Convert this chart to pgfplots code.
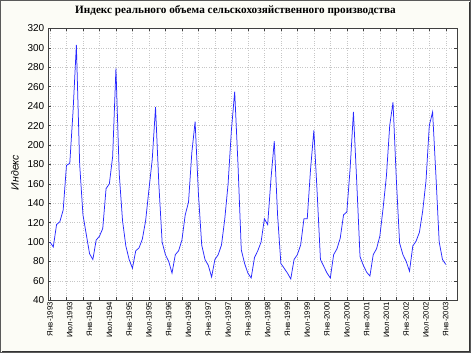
\documentclass[border=0pt]{standalone}
\usepackage{fontspec}
\setmainfont{Liberation Sans}
\newfontfamily\titlefont{Liberation Serif}
\usepackage{pgfplots}
\pgfplotsset{compat=1.18}
\usepackage{pgfplotstable}
\definecolor{bgcream}{RGB}{252,252,246}
\definecolor{lineblue}{RGB}{40,40,255}
\definecolor{framegray}{RGB}{90,90,90}

\pgfplotstableread{
i v
0 100
1 95
2 118
3 121
4 133
5 179
6 181
7 235
8 303
9 180
10 128
11 108
12 88
13 82
14 102
15 106
16 114
17 155
18 160
19 188
20 279
21 170
22 122
23 96
24 82
25 73
26 91
27 94
28 103
29 122
30 154
31 185
32 239
33 160
34 100
35 87
36 80
37 68
38 87
39 91
40 102
41 128
42 141
43 192
44 224
45 150
46 97
47 82
48 76
49 64
50 82
51 87
52 97
53 124
54 160
55 215
56 255
57 180
58 92
59 78
60 68
61 63
62 84
63 91
64 100
65 124
66 118
67 165
68 204
69 128
70 78
71 73
72 68
73 62
74 82
75 87
76 97
77 124
78 124
79 175
80 215
81 151
82 82
83 75
84 68
85 63
86 87
87 93
88 104
89 128
90 131
91 176
92 234
93 162
94 85
95 76
96 69
97 65
98 87
99 93
100 106
101 135
102 168
103 220
104 244
105 165
106 99
107 87
108 80
109 70
110 96
111 101
112 110
113 132
114 163
115 220
116 234
117 169
118 100
119 82
120 77
}\datatable

\begin{document}
\begin{tikzpicture}
\fill[bgcream] (0pt,0pt) rectangle (471pt,353pt);
\useasboundingbox (0pt,0pt) rectangle (471pt,353pt);
\begin{axis}[
  at={(48pt,52.7pt)}, anchor=south west,
  scale only axis, width=409pt, height=271.8pt,
  axis background/.style={fill=white},
  axis line style={draw=black!75, line width=0.6pt},
  xmin=-0.6, xmax=123.4,
  ymin=40, ymax=320,
  ytick={40,60,...,320},
  xtick={0,5,...,120},
  xticklabels={},
  extra x ticks={0,6,...,120},
  extra x tick labels={Янв-1993,Июл-1993,Янв-1994,Июл-1994,Янв-1995,Июл-1995,Янв-1996,Июл-1996,Янв-1997,Июл-1997,Янв-1998,Июл-1998,Янв-1999,Июл-1999,Янв-2000,Июл-2000,Янв-2001,Июл-2001,Янв-2002,Июл-2002,Янв-2003},
  extra x tick style={grid=none, major tick length=0pt,
     xticklabel style={rotate=90, anchor=east, font=\fontsize{7.8}{8}\selectfont, inner sep=1.5pt}},
  tick align=inside,
  major tick length=3pt,
  tick style={black!75, line width=0.5pt},
  grid=major,
  major grid style={dotted, black!22, line width=0.5pt},
  yticklabel style={font=\fontsize{10}{12}\selectfont, inner sep=1.5pt, xshift=-2pt},
  /pgf/number format/assume math mode=true,
  ylabel={Индекс},
  ylabel style={font=\fontsize{10.5}{12}\itshape, at={(axis description cs:-0.081,0.47)}, anchor=center},
  title={Индекс реального объема сельскохозяйственного производства},
  title style={font=\titlefont\bfseries\fontsize{11.2}{12}\selectfont, at={(axis description cs:0.4584,1)}, anchor=base, yshift=8.5pt},
]
\addplot[lineblue, line width=0.75pt, no markers] table[x=i, y=v] {\datatable};
\end{axis}
\draw[framegray, line width=1pt] (0.5pt,0.5pt) rectangle (470.5pt,352.5pt);
\draw[black!80, line width=1.5pt] (2pt,1.5pt) -- (469.5pt,1.5pt) -- (469.5pt,351pt);
\end{tikzpicture}
\end{document}
